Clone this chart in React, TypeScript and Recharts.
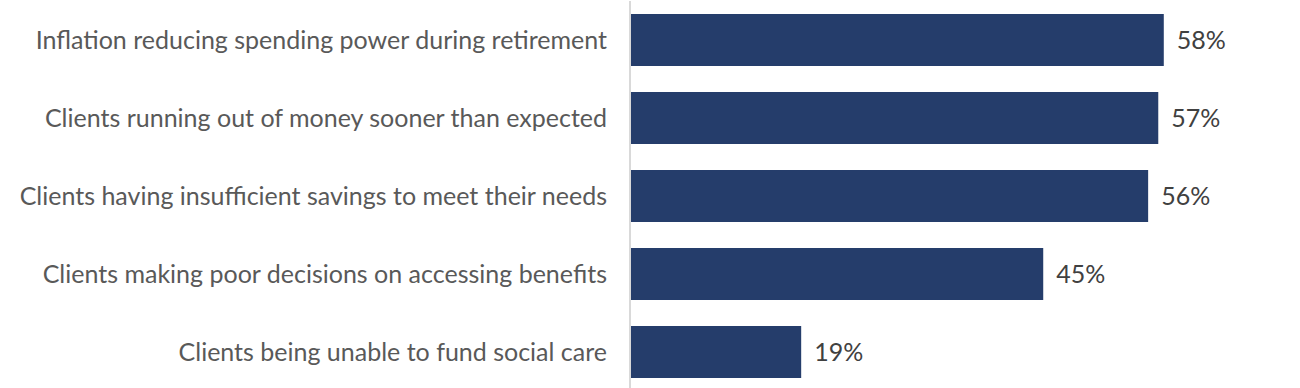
import {Bar, BarChart, XAxis, YAxis, LabelList} from "recharts"

const concerns = [
    "Inflation reducing spending power during retirement",
    "Clients running out of money sooner than expected",
    "Clients having insufficient savings to meet their needs",
    "Clients making poor decisions on accessing benefits",
    "Clients being unable to fund social care",
]

const shares = [58.0, 57.4, 56.3, 44.9, 18.6]

const data = concerns.map((name, i) => ({name, value: shares[i]}))

export default function App(){
    return (
        <div style={{position: "absolute", left: 0, top: 0}}>
        <BarChart width={1300} height={391} data={data} layout="vertical"
            margin={{top: 1, right: 0, bottom: 0, left: 0}}>
        <XAxis type="number" domain={[0, 72.8]} hide/>
        <YAxis type="category" dataKey="name" width={630} tickLine={false} tickSize={0} tickMargin={23}
            axisLine={{stroke: "#d9d9d9", strokeWidth: 2}}
            tick={{fill: "#595959", fontSize: 25, fontFamily: "Lato"}}/>
        <Bar dataKey="value" fill="#253d6b" barSize={52} isAnimationActive={false}>
            <LabelList dataKey="value" position="right" offset={13}
                formatter={(v: any) => Math.round(v) + "%"}
                style={{fill: "#404040", fontSize: 25, fontFamily: "Lato"}}/>
        </Bar>
        </BarChart>
        </div>
    )
}
